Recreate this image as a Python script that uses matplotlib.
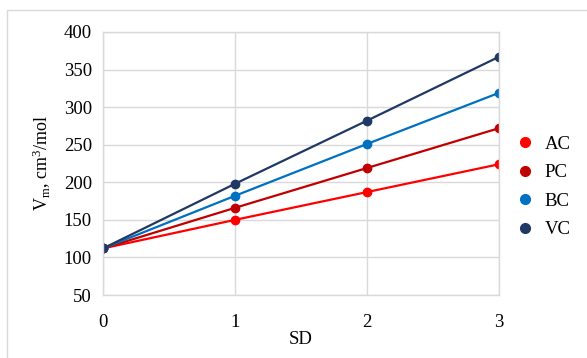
import matplotlib
matplotlib.use('Agg')
from matplotlib import pyplot as plt
from matplotlib.lines import Line2D
from matplotlib.patches import Rectangle

plt.rcParams['font.family'] = ['Liberation Serif', 'DejaVu Serif']
plt.rcParams['mathtext.fontset'] = 'custom'
plt.rcParams['mathtext.rm'] = 'Liberation Serif'
plt.rcParams['mathtext.it'] = 'Liberation Serif:italic'

sd = [0, 1, 2, 3]
series_names = ['AC', 'PC', 'BC', 'VC']
ac = [112, 150, 187, 224]
pc = [112, 166, 219, 272]
bc = [112, 182, 251, 319]
vc = [112, 198, 282, 367]
colors = ['#ff0000', '#c00000', '#0070c0', '#203864']

fig = plt.figure(figsize=(5.87, 3.58), dpi=100)
# light frame around the chart
fig.patches.append(Rectangle((7/587, -0.05), 1.0, 1 - 10/358 + 0.05,
                             transform=fig.transFigure, fill=False,
                             edgecolor='#d9d9d9', linewidth=1.0))

ax = fig.add_axes([103/587, 1 - 295/358, 396/587, 263/358])

for vals, name, c in zip([ac, pc, bc, vc], series_names, colors):
    ax.plot(sd, vals, color=c, linewidth=1.6, marker='o', markersize=6, label=name)

ax.set_xlim(0, 3)
ax.set_ylim(50, 400)
ax.set_xticks(sd)
ax.set_yticks(range(50, 401, 50))
ax.grid(True, color='#d9d9d9', linewidth=1.0)
ax.set_axisbelow(True)
for s in ax.spines.values():
    s.set_color('#d9d9d9')
    s.set_linewidth(1.0)
ax.tick_params(length=0, labelsize=13.5, colors='#000000')
ax.tick_params(axis='x', pad=14)
ax.tick_params(axis='y', pad=8)

ax.set_xlabel('SD', fontsize=13.5, labelpad=0)
ax.set_ylabel('V$_\\mathrm{m}$, cm$^\\mathrm{3}$/mol', fontsize=13, labelpad=8)

handles = [Line2D([], [], linestyle='none', marker='o', markersize=7, color=c)
           for c in colors]
fig.legend(handles, series_names, loc='center left', bbox_to_anchor=(499/587, 1 - 187/358),
           frameon=False, fontsize=13.5, handlelength=1.0, handletextpad=0.55,
           labelspacing=0.6)

fig.savefig('out.png', dpi=100)
